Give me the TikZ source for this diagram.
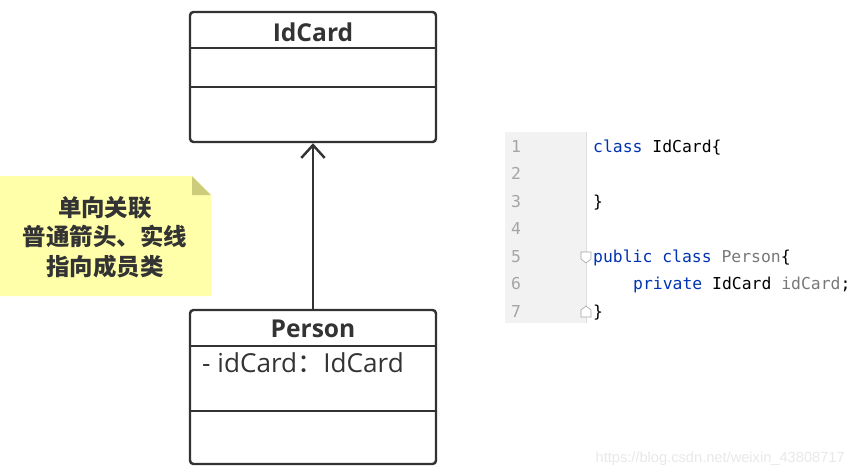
\documentclass[tikz,border=0pt]{standalone}
\usepackage{fontspec}
\setmainfont{Open Sans}
\newfontfamily\cjkfont{Noto Sans CJK SC}
\newfontfamily\codefont{DejaVu Sans Mono}
\newfontfamily\markfont{Liberation Sans}
\usetikzlibrary{arrows.meta,positioning,calc}
\definecolor{umlLine}   {RGB}{51, 51, 51}
\definecolor{noteFill}  {RGB}{255,255,170}
\definecolor{noteFold}  {RGB}{204,204,122}
\definecolor{gutterGray}{RGB}{242,242,242}
\definecolor{gutterEdge}{RGB}{222,222,222}
\definecolor{lineNum}   {RGB}{165,165,165}
\definecolor{kwBlue}    {RGB}{0,  51, 179}
\definecolor{unusedGray}{RGB}{120,120,120}

\begin{document}
\begin{tikzpicture}[x=0.03cm,y=-0.03cm,
    classbox/.style={draw=umlLine,line width=2.1pt,rounded corners=3pt,
                     minimum width=7.38cm,inner sep=0pt},
    classname/.style={anchor=base,inner sep=0pt,text=umlLine,
                      font=\fontsize{21}{25}\selectfont\bfseries},
    attr/.style={anchor=base west,inner sep=0pt,text=umlLine,
                 font=\fontsize{22.3}{26}\selectfont},
    divider/.style={umlLine,line width=2.1pt},
    assoc/.style={umlLine,line width=2.1pt,
                  -{Straight Barb[length=11pt,width=20pt,line width=2.1pt]}},
    notetext/.style={align=center,text=umlLine,
                     font=\cjkfont\bfseries\fontsize{20}{25}\selectfont},
    linenum/.style={anchor=base west,inner sep=0pt,text=lineNum,
                    font=\codefont\fontsize{14}{16}\selectfont},
    codeline/.style={anchor=base west,inner sep=0pt,
                     font=\codefont\fontsize{14}{16}\selectfont},
    foldmark/.style={draw=lineNum,fill=white,line width=0.5pt}]
  \useasboundingbox (0,0) rectangle (854,472);

  % class IdCard
  \node[classbox,minimum height=3.9cm] (idcard) at (313,77) {};
  \node[classname] (idcardname) at (313,41) {IdCard};
  \draw[divider] (idcard.west |- 0,48) -- (idcard.east |- 0,48);
  \draw[divider] (idcard.west |- 0,87) -- (idcard.east |- 0,87);

  % class Person
  \node[classbox,minimum height=4.62cm] (person) at (313,387) {};
  \node[classname] (personname) at (313,337) {Person};
  \node[attr] (personattr) at (202,372) {- idCard{\cjkfont ：}IdCard};
  \draw[divider] (person.west |- 0,346) -- (person.east |- 0,346);
  \draw[divider] (person.west |- 0,411) -- (person.east |- 0,411);

  % association
  \draw[assoc] (person.north) -- (idcard.south);

  % note
  \fill[noteFill] (0,176) -- (192,176) -- (211,195) -- (211,296) -- (0,296) -- cycle;
  \fill[noteFold] (192,176) -- (211,195) -- (192,195) -- cycle;
  \node[notetext] (note) at (105,237) {单向关联\\普通箭头、实线\\指向成员类};

  % code
  \fill[gutterGray] (505,132) rectangle (586,323);
  \draw[gutterEdge,line width=0.6pt] (586,132) -- (586,323);
  \foreach \n in {1,...,7}{
    \node[linenum] (ln\n) at (511,152+27.5*\n-27.5) {\n};
  }
  \node[codeline] (code1) at (593,152) {\textcolor{kwBlue}{class} IdCard\{};
  \node[codeline] (code3) at (593,207) {\}};
  \node[codeline] (code5) at (593,262)
    {\textcolor{kwBlue}{public class} \textcolor{unusedGray}{Person}\{};
  \node[codeline] (code6) at (633,289.5)
    {\textcolor{kwBlue}{private} IdCard \textcolor{unusedGray}{idCard};};
  \node[codeline] (code7) at (593,317) {\}};
  \draw[foldmark] (581,252) -- (591,252) -- (591,259) -- (586,263) -- (581,259) -- cycle;
  \draw[foldmark] (581,317) -- (591,317) -- (591,310) -- (586,306) -- (581,310) -- cycle;

  % watermark
  \node[anchor=base east,inner sep=0pt,text=black!9,
        font=\markfont\fontsize{12.5}{14}\selectfont] (mark) at (845,462)
    {https://blog.csdn.net/weixin\_43808717};
\end{tikzpicture}
\end{document}
